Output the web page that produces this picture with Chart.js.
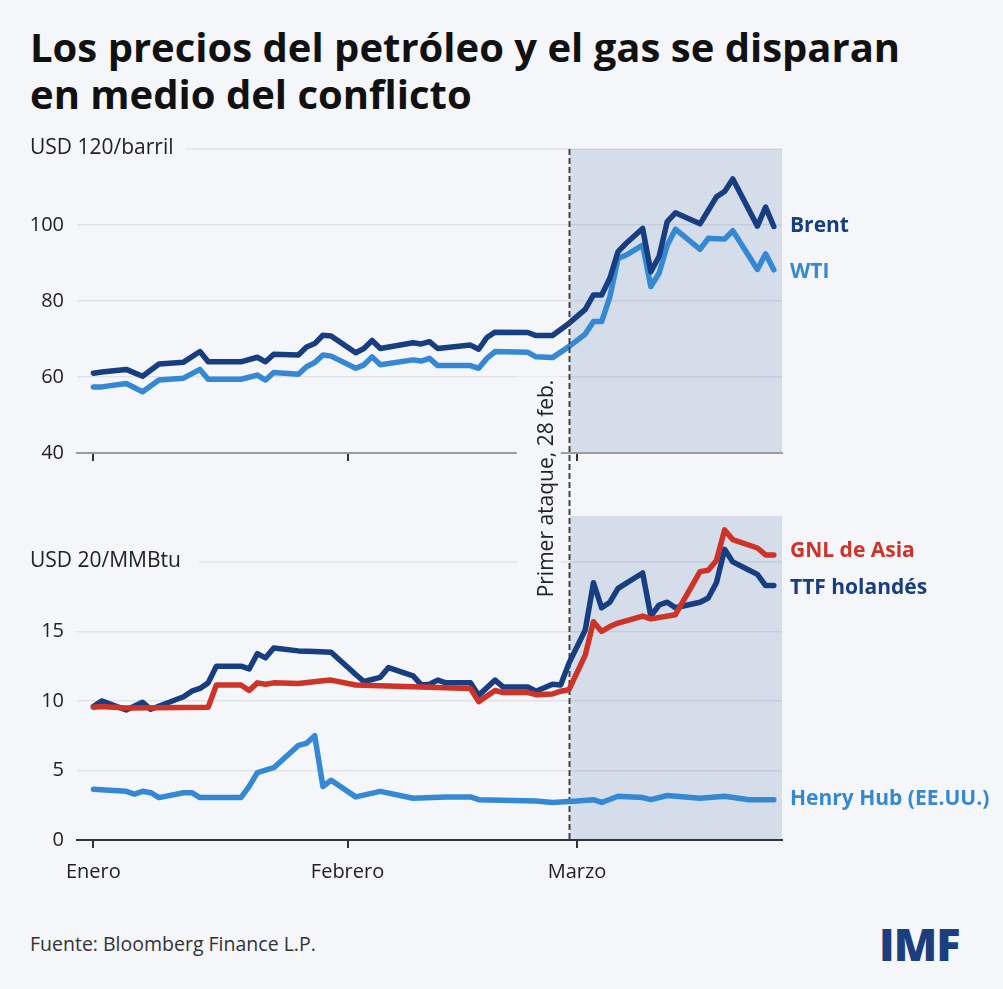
<!DOCTYPE html>
<html lang="es">
<head>
<meta charset="UTF-8">
<title>Precios del petróleo y el gas</title>
<script src="https://cdn.jsdelivr.net/npm/chart.js"></script>
<style>
    body { margin: 0; background: #f5f6f9; }
    #wrap {
        position: relative;
        width: 1003px;
        height: 989px;
        background: #f5f6f9;
        font-family: 'Open Sans', sans-serif;
        overflow: hidden;
    }
    h1 {
        position: absolute;
        left: 30px;
        top: 23px;
        margin: 0;
        font-size: 40px;
        line-height: 47px;
        font-weight: 700;
        color: #111;
    }
    .panel { position: absolute; left: 0; top: 130px; width: 1003px; }
    #oilBox { height: 340px; z-index: 1; }
    #gasBox { height: 770px; z-index: 2; }
    .source {
        position: absolute;
        left: 30px;
        top: 930px;
        font-size: 19.5px;
        color: #333;
    }
    .logo {
        position: absolute;
        left: 879px;
        top: 913px;
        font-size: 45px;
        font-weight: 800;
        color: #1b3e7d;
        letter-spacing: -1px;
    }
</style>
</head>
<body>
<div id="wrap">
    <h1>Los precios del petróleo y el gas se disparan<br>en medio del conflicto</h1>
    <div class="panel" id="oilBox"><canvas id="oilChart"></canvas></div>
    <div class="panel" id="gasBox"><canvas id="gasChart"></canvas></div>
    <div class="source">Fuente: Bloomberg Finance L.P.</div>
    <div class="logo">IMF</div>
</div>

<script>
    // dias contados desde el 1 de enero
    const monthDays = [0, 31, 59];
    const monthLabels = ['Enero', 'Febrero', 'Marzo'];
    const attackDay = 58;

    // petróleo (USD/barril)
    const oilDays = [0, 1, 4, 6, 8, 11, 13, 14, 18, 20, 21, 22, 25, 26, 27, 28, 29, 32, 33, 34, 35, 39, 40, 41, 42, 46, 47, 48, 49, 53, 54, 56, 58, 60, 61, 62, 63, 64, 65, 67, 68, 69, 70, 71, 74, 75, 76, 77, 78, 81, 82, 83];
    const brent = [61.0, 61.3, 62.0, 60.2, 63.4, 63.9, 66.7, 64.0, 64.0, 65.2, 64.0, 66.0, 65.8, 67.9, 68.8, 71.0, 70.8, 66.4, 67.5, 69.6, 67.5, 69.0, 68.7, 69.3, 67.5, 68.4, 67.3, 70.4, 71.8, 71.7, 70.9, 70.9, 74.1, 77.8, 81.6, 81.6, 86.0, 93.0, 95.2, 99.1, 87.7, 91.7, 100.9, 103.2, 100.3, 103.8, 107.4, 108.8, 112.1, 99.7, 104.7, 99.6];
    const wti = [57.4, 57.4, 58.3, 56.1, 59.2, 59.7, 62.0, 59.4, 59.4, 60.5, 59.2, 61.2, 60.7, 62.7, 63.8, 65.8, 65.5, 62.3, 63.2, 65.3, 63.2, 64.5, 64.2, 64.9, 63.0, 63.0, 62.3, 64.9, 66.7, 66.5, 65.3, 65.1, 68.0, 71.3, 74.6, 74.6, 81.1, 91.2, 92.1, 94.7, 83.8, 87.3, 94.7, 98.9, 93.6, 96.5, 96.4, 96.3, 98.5, 88.3, 92.4, 88.2];
    const oilTicks = [40, 60, 80, 100, 120];

    // gas (USD/MMBtu)
    const gnlDays = [0, 1, 4, 14, 15, 18, 19, 20, 21, 22, 25, 28, 29, 32, 46, 47, 49, 50, 53, 54, 56, 57, 58, 60, 61, 62, 63, 64, 67, 68, 71, 74, 75, 76, 77, 78, 81, 82, 83];
    const gnlAsia = [9.55, 9.6, 9.5, 9.55, 11.15, 11.15, 10.75, 11.3, 11.2, 11.3, 11.25, 11.45, 11.5, 11.15, 10.9, 9.95, 10.75, 10.6, 10.6, 10.45, 10.5, 10.7, 10.8, 13.3, 15.7, 15.0, 15.35, 15.6, 16.1, 15.9, 16.2, 19.3, 19.4, 20.1, 22.3, 21.6, 21.0, 20.5, 20.5];
    const ttfDays = [0, 1, 4, 6, 7, 11, 12, 13, 14, 15, 18, 19, 20, 21, 22, 25, 27, 29, 32, 33, 35, 36, 39, 40, 41, 42, 43, 46, 47, 49, 50, 53, 54, 56, 57, 58, 60, 61, 62, 63, 64, 67, 68, 69, 70, 71, 74, 75, 76, 77, 78, 80, 81, 82, 83];
    const ttf = [9.6, 10.0, 9.35, 9.9, 9.4, 10.3, 10.7, 10.9, 11.3, 12.5, 12.5, 12.3, 13.4, 13.1, 13.8, 13.6, 13.55, 13.5, 11.9, 11.4, 11.7, 12.4, 11.8, 11.15, 11.2, 11.5, 11.3, 11.3, 10.4, 11.5, 11.0, 11.0, 10.7, 11.2, 11.15, 12.7, 15.1, 18.5, 16.7, 17.1, 18.1, 19.2, 16.1, 16.9, 17.1, 16.7, 17.1, 17.4, 18.5, 20.9, 20.0, 19.4, 19.1, 18.3, 18.3];
    const hhDays = [0, 4, 5, 6, 7, 8, 11, 12, 13, 18, 19, 20, 22, 25, 26, 27, 28, 29, 32, 35, 39, 43, 46, 47, 54, 56, 59, 61, 62, 64, 67, 68, 70, 74, 77, 80, 83];
    const henryHub = [3.65, 3.5, 3.3, 3.5, 3.4, 3.05, 3.4, 3.4, 3.05, 3.05, 3.85, 4.85, 5.2, 6.8, 6.95, 7.5, 3.85, 4.3, 3.1, 3.5, 3.0, 3.1, 3.1, 2.9, 2.8, 2.7, 2.8, 2.9, 2.7, 3.15, 3.05, 2.9, 3.2, 3.0, 3.15, 2.9, 2.9];
    const gasTicks = [0, 5, 10, 15, 20];

    const navy = '#173e80';
    const lightBlue = '#3488d4';
    const red = '#cd3327';
    const gridColor = '#e1e2e7';
    const shadeColor = 'rgba(70, 110, 170, 0.18)';
    const bg = '#f5f6f9';

    Chart.defaults.font.family = "'Open Sans', sans-serif";
    Chart.defaults.color = '#222';

    const pts = (days, vals) => days.map((d, i) => ({ x: d, y: vals[i] }));

    function line(label, days, vals, color, labelDy) {
        return {
            label: label,
            data: pts(days, vals),
            borderColor: color,
            borderWidth: 5.5,
            borderJoinStyle: 'round',
            borderCapStyle: 'round',
            pointRadius: 0,
            tension: 0,
            labelDy: labelDy || 0
        };
    }

    function xAxis(showLabels) {
        return {
            type: 'linear',
            min: -2,
            max: 84,
            afterBuildTicks: s => { s.ticks = monthDays.map(v => ({ value: v })); },
            ticks: {
                autoSkip: false,
                maxRotation: 0,
                padding: 12,
                color: '#222',
                font: { size: 20 },
                callback: v => showLabels ? monthLabels[monthDays.indexOf(v)] : ''
            },
            grid: { drawOnChartArea: false, drawTicks: true, tickLength: 8, color: '#333', lineWidth: 2 },
            border: { color: showLabels ? '#333' : '#9c9c9c', width: 2 },
            afterFit: s => { s.height = showLabels ? 60 : 17; }
        };
    }

    function yAxis(ticks, min, max, topValue) {
        return {
            min: min,
            max: max,
            afterBuildTicks: s => { s.ticks = ticks.map(v => ({ value: v })); },
            ticks: {
                padding: 13,
                color: '#222',
                font: { size: 20 },
                callback: v => v === topValue ? '' : v
            },
            grid: {
                drawTicks: false,
                lineWidth: 1.5,
                color: c => (c.tick && c.tick.value === topValue) ? 'transparent' : gridColor
            },
            border: { display: false },
            afterFit: s => {
                s.width = 77;
                s.paddingTop = 0;
                s.paddingBottom = 0;
            }
        };
    }

    // etiqueta de unidades, sombreado y nombres de series
    const panelDecor = {
        id: 'panelDecor',
        beforeDatasetsDraw(chart, args, opts) {
            const { ctx, chartArea: a, scales: { x, y } } = chart;
            ctx.save();
            const yTop = y.getPixelForValue(opts.unitValue);
            ctx.font = "21px 'Open Sans', sans-serif";
            ctx.fillStyle = '#222';
            ctx.textBaseline = 'middle';
            ctx.fillText(opts.unitLabel, 30, yTop - 1);
            const w = ctx.measureText(opts.unitLabel).width;
            ctx.strokeStyle = gridColor;
            ctx.lineWidth = 1.5;
            ctx.beginPath();
            ctx.moveTo(30 + w + opts.gap, yTop);
            ctx.lineTo(a.right, yTop);
            ctx.stroke();

            const xs = x.getPixelForValue(attackDay);
            ctx.fillStyle = shadeColor;
            ctx.fillRect(xs + 1, a.top, a.right - xs - 1, a.bottom - a.top - 1);
            ctx.restore();
        },
        afterDatasetsDraw(chart) {
            const { ctx, chartArea: a } = chart;
            ctx.save();
            ctx.font = "bold 21px 'Open Sans', sans-serif";
            ctx.textBaseline = 'middle';
            chart.data.datasets.forEach((ds, i) => {
                const pts = chart.getDatasetMeta(i).data;
                const last = pts[pts.length - 1];
                ctx.fillStyle = ds.borderColor;
                ctx.fillText(ds.label, a.right + 8, last.y + ds.labelDy);
            });
            ctx.restore();
        }
    };

    const oilChart = new Chart(document.getElementById('oilChart'), {
        type: 'line',
        data: {
            datasets: [
                line('Brent', oilDays, brent, navy, -1),
                line('WTI', oilDays, wti, lightBlue, 2)
            ]
        },
        options: {
            responsive: true,
            maintainAspectRatio: false,
            animation: false,
            events: [],
            layout: { padding: { top: 19, right: 221, left: 0, bottom: 0 } },
            plugins: {
                legend: { display: false },
                tooltip: { enabled: false },
                panelDecor: { unitLabel: 'USD 120/barril', unitValue: 120, gap: 12 }
            },
            scales: { x: xAxis(false), y: yAxis(oilTicks, 40, 120, 120) }
        },
        plugins: [panelDecor]
    });

    // linea de "Primer ataque" que cruza los dos paneles
    const attackLine = {
        id: 'attackLine',
        beforeDatasetsDraw(chart) {
            const { ctx, chartArea: a, scales: { x } } = chart;
            const xd = Math.round(x.getPixelForValue(attackDay)) + 0.5;
            ctx.save();
            ctx.strokeStyle = '#444';
            ctx.lineWidth = 2;
            ctx.setLineDash([6, 3]);
            ctx.beginPath();
            ctx.moveTo(xd, oilChart.chartArea.top);
            ctx.lineTo(xd, a.bottom);
            ctx.stroke();
            ctx.restore();
        },
        afterDraw(chart) {
            const { ctx, chartArea: a, scales: { x } } = chart;
            const xd = x.getPixelForValue(attackDay);
            const cy = (oilChart.chartArea.bottom + a.top) / 2;
            ctx.save();
            ctx.fillStyle = bg;
            ctx.fillRect(xd - 52, cy - 108, 44, 226);
            ctx.translate(xd - 16, cy);
            ctx.rotate(-Math.PI / 2);
            ctx.font = "21px 'Open Sans', sans-serif";
            ctx.fillStyle = '#222';
            ctx.textAlign = 'center';
            ctx.textBaseline = 'alphabetic';
            ctx.fillText('Primer ataque, 28 feb.', -4, 0);
            ctx.restore();
        }
    };

    const gasChart = new Chart(document.getElementById('gasChart'), {
        type: 'line',
        data: {
            datasets: [
                line('GNL de Asia', gnlDays, gnlAsia, red, -4),
                line('TTF holandés', ttfDays, ttf, navy, 2),
                line('Henry Hub (EE.UU.)', hhDays, henryHub, lightBlue, -1)
            ]
        },
        options: {
            responsive: true,
            maintainAspectRatio: false,
            animation: false,
            events: [],
            layout: { padding: { top: 386, right: 221, left: 0, bottom: 0 } },
            plugins: {
                legend: { display: false },
                tooltip: { enabled: false },
                panelDecor: { unitLabel: 'USD 20/MMBtu', unitValue: 20, gap: 18 }
            },
            scales: { x: xAxis(true), y: yAxis(gasTicks, 0, 23.3, 20) }
        },
        plugins: [panelDecor, attackLine]
    });
</script>
</body>
</html>
